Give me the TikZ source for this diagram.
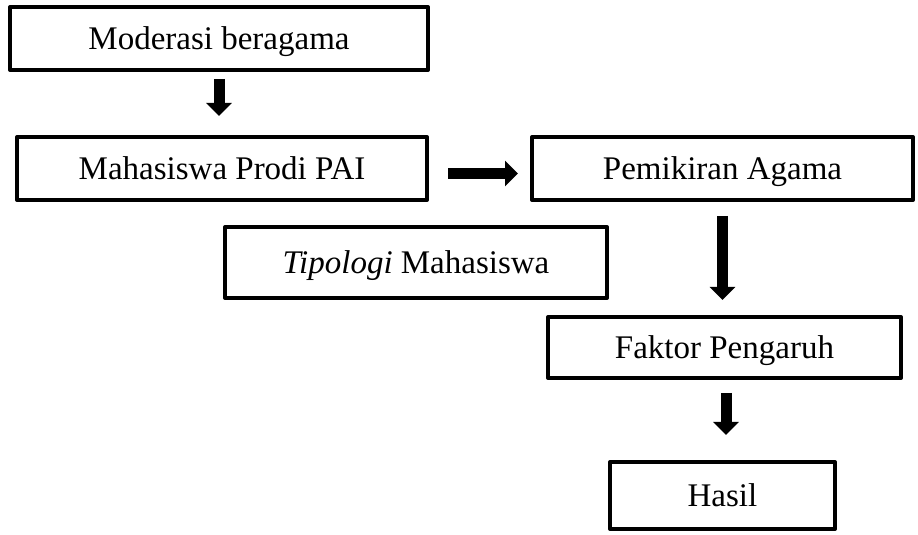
\documentclass[tikz,border=0pt]{standalone}
\usepackage{fontspec}
\setmainfont{Liberation Serif}
\usetikzlibrary{arrows.meta}
\tikzstyle{kotak}=[draw, line width=2pt, line join=round, inner sep=0pt, text height=11pt, text depth=0pt, align=center, font=\fontsize{16.5}{19}\selectfont]
\tikzstyle{panah}=[line width=5.5pt, -{Triangle[length=6.5pt,width=12.5pt]}]

\begin{document}
\begin{tikzpicture}[x=0.5pt,y=-0.5pt]
			% Rahmen
			\useasboundingbox (0,0) rectangle (918,535);
			% Kotak zeichnen
			\node[kotak, minimum width=209pt, minimum height=31.5pt] (moderasi) at (219,38.5) {Moderasi beragama};
			\node[kotak, minimum width=205pt, minimum height=31.5pt] (prodi) at (222,168.5) {Mahasiswa Prodi PAI};
			\node[kotak, minimum width=190.5pt, minimum height=31.5pt] (pemikiran) at (722.5,168.5) {Pemikiran Agama};
			\node[kotak, minimum width=191pt, minimum height=35.5pt] (tipologi) at (416,262.5) {\textit{Tipologi} Mahasiswa};
			\node[kotak, minimum width=176.5pt, minimum height=30.5pt] (faktor) at (724.5,347.5) {Faktor Pengaruh};
			\node[kotak, minimum width=112.5pt, minimum height=33.5pt] (hasil) at (722.5,495.5) {Hasil};
			% Panah zeichnen
			\draw[panah, shorten <=3.5pt, shorten >=9.5pt] (moderasi.south) -- (moderasi.south |- prodi.north);
			\draw[panah, shorten <=9.5pt, shorten >=6pt] ([yshift=-2.5pt]prodi.east) -- ([yshift=-2.5pt]prodi.east -| pemikiran.west);
			\draw[panah, shorten <=7pt, shorten >=7.5pt] (pemikiran.south) -- (pemikiran.south |- faktor.north);
			\draw[panah, shorten <=6.5pt, shorten >=12.5pt] ([xshift=0.75pt]faktor.south) -- ([xshift=0.75pt]faktor.south |- hasil.north);
		\end{tikzpicture}
\end{document}
